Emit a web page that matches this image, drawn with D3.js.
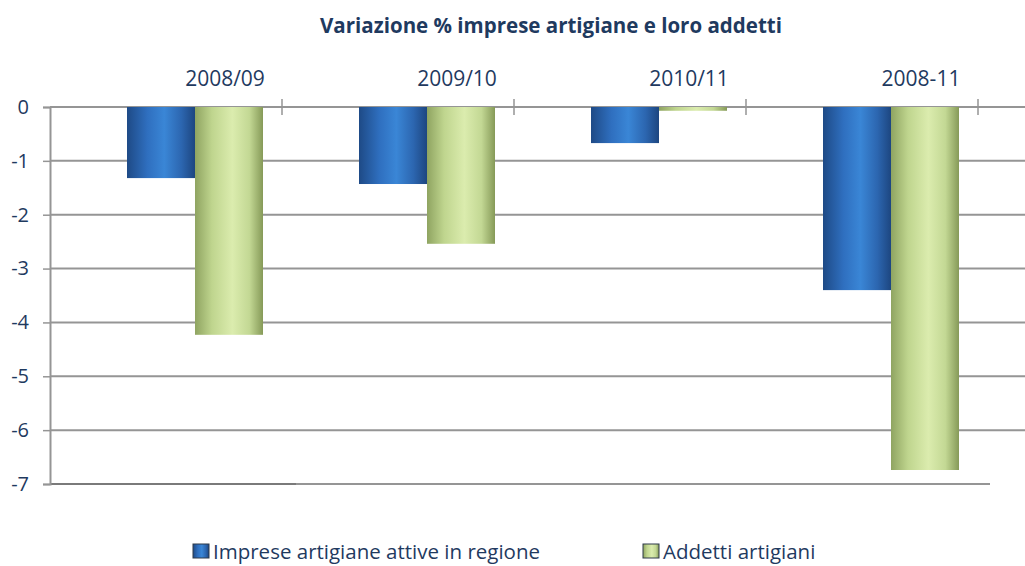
<!DOCTYPE html>
<html>
<head>
<meta charset="utf-8">
<script src="https://cdn.jsdelivr.net/npm/d3@7"></script>
<style>
  body { margin: 0; background: #fff; }
  svg text { font-family: "Open Sans", "Liberation Sans", sans-serif; fill: #1f3a5f; }
</style>
</head>
<body>
<svg id="chart" width="1025" height="566"></svg>
<script>
// Data
const categories = ['2008/09', '2009/10', '2010/11', '2008-11'];
const seriesNames = ['Imprese artigiane attive in regione', 'Addetti artigiani'];
const imprese = [-1.32, -1.43, -0.67, -3.40];
const addetti = [-4.23, -2.54, -0.07, -6.74];
const yTicks = [0, -1, -2, -3, -4, -5, -6, -7];

const svg = d3.select('#chart');
const width = 1025;

const y = d3.scaleLinear().domain([-7, 0]).range([484, 107]);
const x = d3.scaleBand().domain(categories).range([79, 1007]).paddingInner(0).paddingOuter(0);
// bars take the middle part of each category band
const xs = d3.scaleBand().domain([0, 1]).range([48, x.bandwidth() - 48]).paddingInner(0);

// Gradients for the cylinder look
const defs = svg.append('defs');
function cyl(id, stops) {
    const g = defs.append('linearGradient').attr('id', id).attr('x1', '0%').attr('x2', '100%');
    stops.forEach(s => g.append('stop').attr('offset', s[0]).attr('stop-color', s[1]));
}
cyl('gBlue', [['0%', '#1e4a86'], ['30%', '#2f6fbf'], ['55%', '#3a86d6'], ['80%', '#2c66b0'], ['100%', '#1d4680']]);
cyl('gGreen', [['0%', '#8fa461'], ['25%', '#bfd58e'], ['55%', '#dbecae'], ['80%', '#c3d894'], ['100%', '#869a58']]);

// Gridlines
svg.append('g')
    .selectAll('line')
    .data(yTicks)
    .enter()
    .append('line')
    .attr('x1', 50)
    .attr('x2', d => d === -7 ? 990 : width)
    .attr('y1', d => y(d))
    .attr('y2', d => y(d))
    .attr('stroke', '#959595')
    .attr('stroke-width', 2);

// Floor segment
svg.append('line')
    .attr('x1', 50).attr('x2', 296)
    .attr('y1', y(-7)).attr('y2', y(-7))
    .attr('stroke', '#7a7a7a').attr('stroke-width', 2);

// Y axis
const yAxis = svg.append('g')
    .attr('transform', 'translate(50,0)')
    .call(d3.axisLeft(y).tickValues(yTicks).tickSize(7).tickPadding(14).tickFormat(d3.format('d')));
yAxis.select('.domain').attr('stroke', '#959595').attr('stroke-width', 2);
yAxis.selectAll('.tick line').attr('stroke', '#959595').attr('stroke-width', 1.5);
yAxis.selectAll('.tick text')
    .attr('font-size', '20px')
    .attr('fill', '#1f3a5f')
    .attr('font-family', '"Open Sans", sans-serif')
    .text(d => d < 0 ? '-' + Math.abs(d) : d);

// Category ticks on the zero line
svg.append('g')
    .selectAll('line')
    .data(categories)
    .enter()
    .append('line')
    .attr('x1', d => x(d) + x.bandwidth() - 29)
    .attr('x2', d => x(d) + x.bandwidth() - 29)
    .attr('y1', y(0) - 8)
    .attr('y2', y(0) + 8)
    .attr('stroke', '#959595')
    .attr('stroke-width', 1.5);

// Category labels
svg.append('g')
    .selectAll('text')
    .data(categories)
    .enter()
    .append('text')
    .attr('x', d => x(d) + x.bandwidth() / 2 + 30)
    .attr('y', 86)
    .attr('text-anchor', 'middle')
    .attr('font-size', '21px')
    .text(d => d);

// Bars
const rows = [];
categories.forEach((c, i) => {
    rows.push({ cat: c, s: 0, value: imprese[i] });
    rows.push({ cat: c, s: 1, value: addetti[i] });
});

svg.append('g')
    .selectAll('rect')
    .data(rows)
    .enter()
    .append('rect')
    .attr('x', d => x(d.cat) + xs(d.s))
    .attr('y', y(0))
    .attr('width', xs.bandwidth())
    .attr('height', d => y(d.value) - y(0))
    .attr('fill', d => d.s === 0 ? 'url(#gBlue)' : 'url(#gGreen)');

// Title
svg.append('text')
    .attr('x', 551)
    .attr('y', 33)
    .attr('text-anchor', 'middle')
    .attr('font-size', '20.5px')
    .attr('font-weight', 'bold')
    .text('Variazione % imprese artigiane e loro addetti');

// Legend
const legendX = [193, 643];
const legend = svg.append('g');
seriesNames.forEach((name, i) => {
    legend.append('rect')
        .attr('x', legendX[i])
        .attr('y', 544)
        .attr('width', 16)
        .attr('height', 14)
        .attr('fill', i === 0 ? 'url(#gBlue)' : 'url(#gGreen)')
        .attr('stroke', '#2e3a4a')
        .attr('stroke-width', 1);
    legend.append('text')
        .attr('x', legendX[i] + 20)
        .attr('y', 559)
        .attr('font-size', '20.5px')
        .text(name);
});
</script>
</body>
</html>
